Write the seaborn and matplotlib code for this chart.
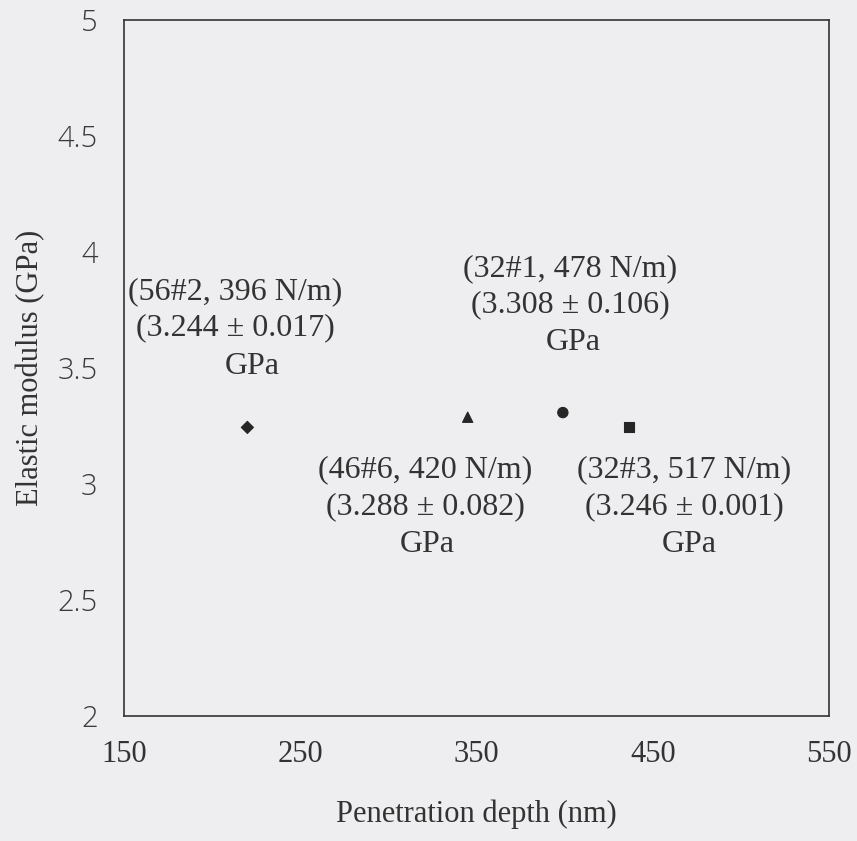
import matplotlib
matplotlib.use("Agg")
import matplotlib.pyplot as plt
import seaborn as sns
import pandas as pd

# Nanoindentation results: one probe per point
probes = ["56#2", "46#6", "32#1", "32#3"]
stiffness = [396, 420, 478, 517]          # N/m
depth_nm = [220, 345, 399, 436.5]         # penetration depth
modulus_gpa = [3.244, 3.288, 3.308, 3.246]
modulus_sd = [0.017, 0.082, 0.106, 0.001]
marker_shapes = ["D", "^", "o", "s"]

x_ticks = [150, 250, 350, 450, 550]
y_ticks = [2, 2.5, 3, 3.5, 4, 4.5, 5]

df = pd.DataFrame({"probe": probes, "depth": depth_nm, "E": modulus_gpa})

sns.set_theme(style="white")
bg = "#eeeef0"
ink = "#333333"
plt.rcParams["font.family"] = ["Liberation Serif", "DejaVu Serif"]

fig = plt.figure(figsize=(8.57, 8.41), dpi=100, facecolor=bg)
ax = fig.add_axes([0.1447, 0.1486, 0.8226, 0.8276])
ax.set_facecolor(bg)

sns.scatterplot(data=df, x="depth", y="E", style="probe",
                markers=dict(zip(probes, marker_shapes)),
                size="probe", sizes={"56#2": 38, "46#6": 55, "32#1": 55, "32#3": 50},
                color="#262626", edgecolor="#262626", linewidth=0.8,
                legend=False, ax=ax)

ax.set_xlim(150, 550)
ax.set_ylim(2, 5)
ax.set_xticks(x_ticks)
ax.set_yticks(y_ticks)
ax.set_xticklabels([str(v) for v in x_ticks])
ax.set_yticklabels([f"{v:g}" for v in y_ticks])
ax.tick_params(direction="in", length=6, width=1.1, color=ink,
               labelcolor=ink, labelsize=22)
ax.tick_params(axis="x", pad=17)
ax.tick_params(axis="y", pad=19, labelsize=21)
for lab in ax.get_yticklabels():
    lab.set_family(["Open Sans", "DejaVu Sans"])
    lab.set_fontweight(300)
    lab.set_color("#3a3a3a")

for sp in ax.spines.values():
    sp.set_visible(True)
    sp.set_color(ink)
    sp.set_linewidth(1.2)

ax.set_xlabel("Penetration depth (nm)", fontsize=22, color=ink, labelpad=22)
ax.set_ylabel("Elastic modulus (GPa)", fontsize=22, color=ink, labelpad=9)

# Annotation blocks: (x centre, top-line y) in data units
label_pos = [(213, 3.83), (321, 3.06), (403, 3.93), (468, 3.06)]
gpa_shift = [10, 1, 2, 3]
for p, k, m, sd, (lx, ly), dx in zip(probes, stiffness, modulus_gpa,
                                      modulus_sd, label_pos, gpa_shift):
    kw = dict(ha="center", va="center", fontsize=23, color=ink)
    ax.text(lx, ly, f"({p}, {k} N/m)", **kw)
    ax.text(lx, ly - 0.158, f"({m:.3f} \u00b1 {sd:.3f})", **kw)
    ax.text(lx + dx, ly - 0.322, "GPa", **kw)

fig.savefig("out.png", dpi=100, facecolor=bg)
